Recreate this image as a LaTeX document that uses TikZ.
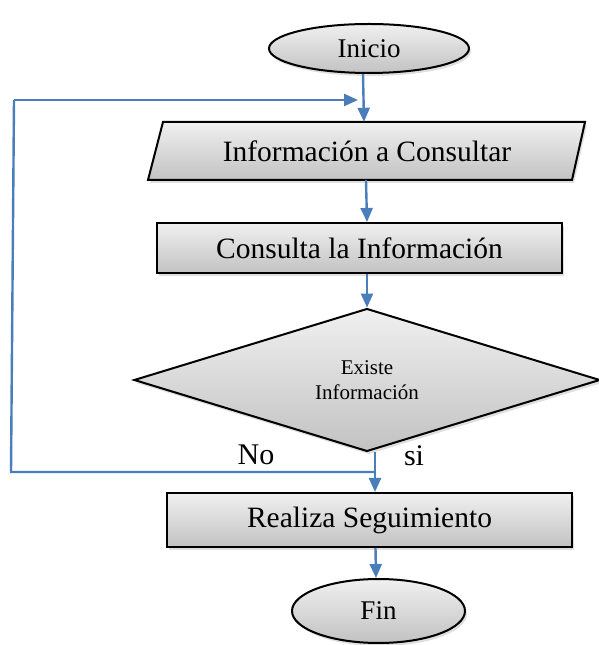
\documentclass[tikz,border=0pt]{standalone}
\usepackage{fontspec}
\setmainfont{Liberation Serif}
\usetikzlibrary{shapes.geometric,arrows.meta,shadows}
\definecolor{flowblue}{HTML}{4A7EBB}
\definecolor{shadetop}{HTML}{F0F0F0}
\definecolor{shadebot}{HTML}{C2C2C2}
\begin{document}
\begin{tikzpicture}[x=1pt,y=1pt,
  shapebase/.style={draw=black, line width=2pt, top color=shadetop, bottom color=shadebot,
    drop shadow={opacity=0.25, shadow xshift=2pt, shadow yshift=-3pt}},
  termbox/.style={shapebase, ellipse, inner sep=0pt, font=\fontsize{27}{29}\selectfont},
  procbox/.style={shapebase, rectangle, inner sep=0pt, font=\fontsize{29.5}{31}\selectfont},
  decbox/.style={shapebase, diamond, inner sep=0pt, align=center, font=\fontsize{21}{25}\selectfont},
  flow/.style={draw=flowblue, line width=2.4pt, -{Triangle[length=14pt,width=12pt]}},
  flowline/.style={draw=flowblue, line width=2.4pt},
  lbl/.style={font=\fontsize{30}{32}\selectfont, inner sep=0pt}
]
\useasboundingbox (0,0) rectangle (598,645);
% nodes
\node[termbox, minimum width=200, minimum height=49] (inicio) at (369,596.5) {Inicio};
\path[shapebase] (163,523) -- (585,523) -- (572,465) -- (148,465) -- cycle;
\node[font=\fontsize{29.5}{31}\selectfont, inner sep=0pt, minimum width=420, minimum height=58] (info) at (367,494) {\raisebox{-3pt}{Información a Consultar}};
\node[procbox, minimum width=405, minimum height=50] (consulta) at (359.5,397) {\raisebox{-2pt}{Consulta la Información}};
\node[decbox, minimum width=466, minimum height=142] (dia) at (367,265) {Existe\\Información};
\node[procbox, minimum width=405, minimum height=54] (realiza) at (369.5,125) {\raisebox{-2pt}{Realiza Seguimiento}};
\node[termbox, minimum width=173, minimum height=64] (fin) at (378.5,34) {Fin};
\node[lbl] (no) at (256,190) {No};
\node[lbl] (si) at (414,189) {si};
% loop coordinates
\coordinate (j) at (375,173);
\coordinate (lb) at (11,173);
\coordinate (lt) at (14,545);
\coordinate (le) at (358,545);
% connectors
\draw[flow] ([xshift=-6pt]inicio.south) -- ([xshift=-3pt]info.north);
\draw[flow] ([xshift=-1pt]info.south) -- ([xshift=7.5pt]consulta.north);
\draw[flow] ([xshift=7.5pt]consulta.south) -- (dia.north);
\draw[flow] (dia.south -| j) -- (j |- realiza.north);
\draw[flowline] (j) -- (lb) -- (lt);
\draw[flow] (lt) -- (le);
\draw[flow] ([xshift=6pt]realiza.south) -- ([xshift=-2.5pt]fin.north);
\end{tikzpicture}
\end{document}
